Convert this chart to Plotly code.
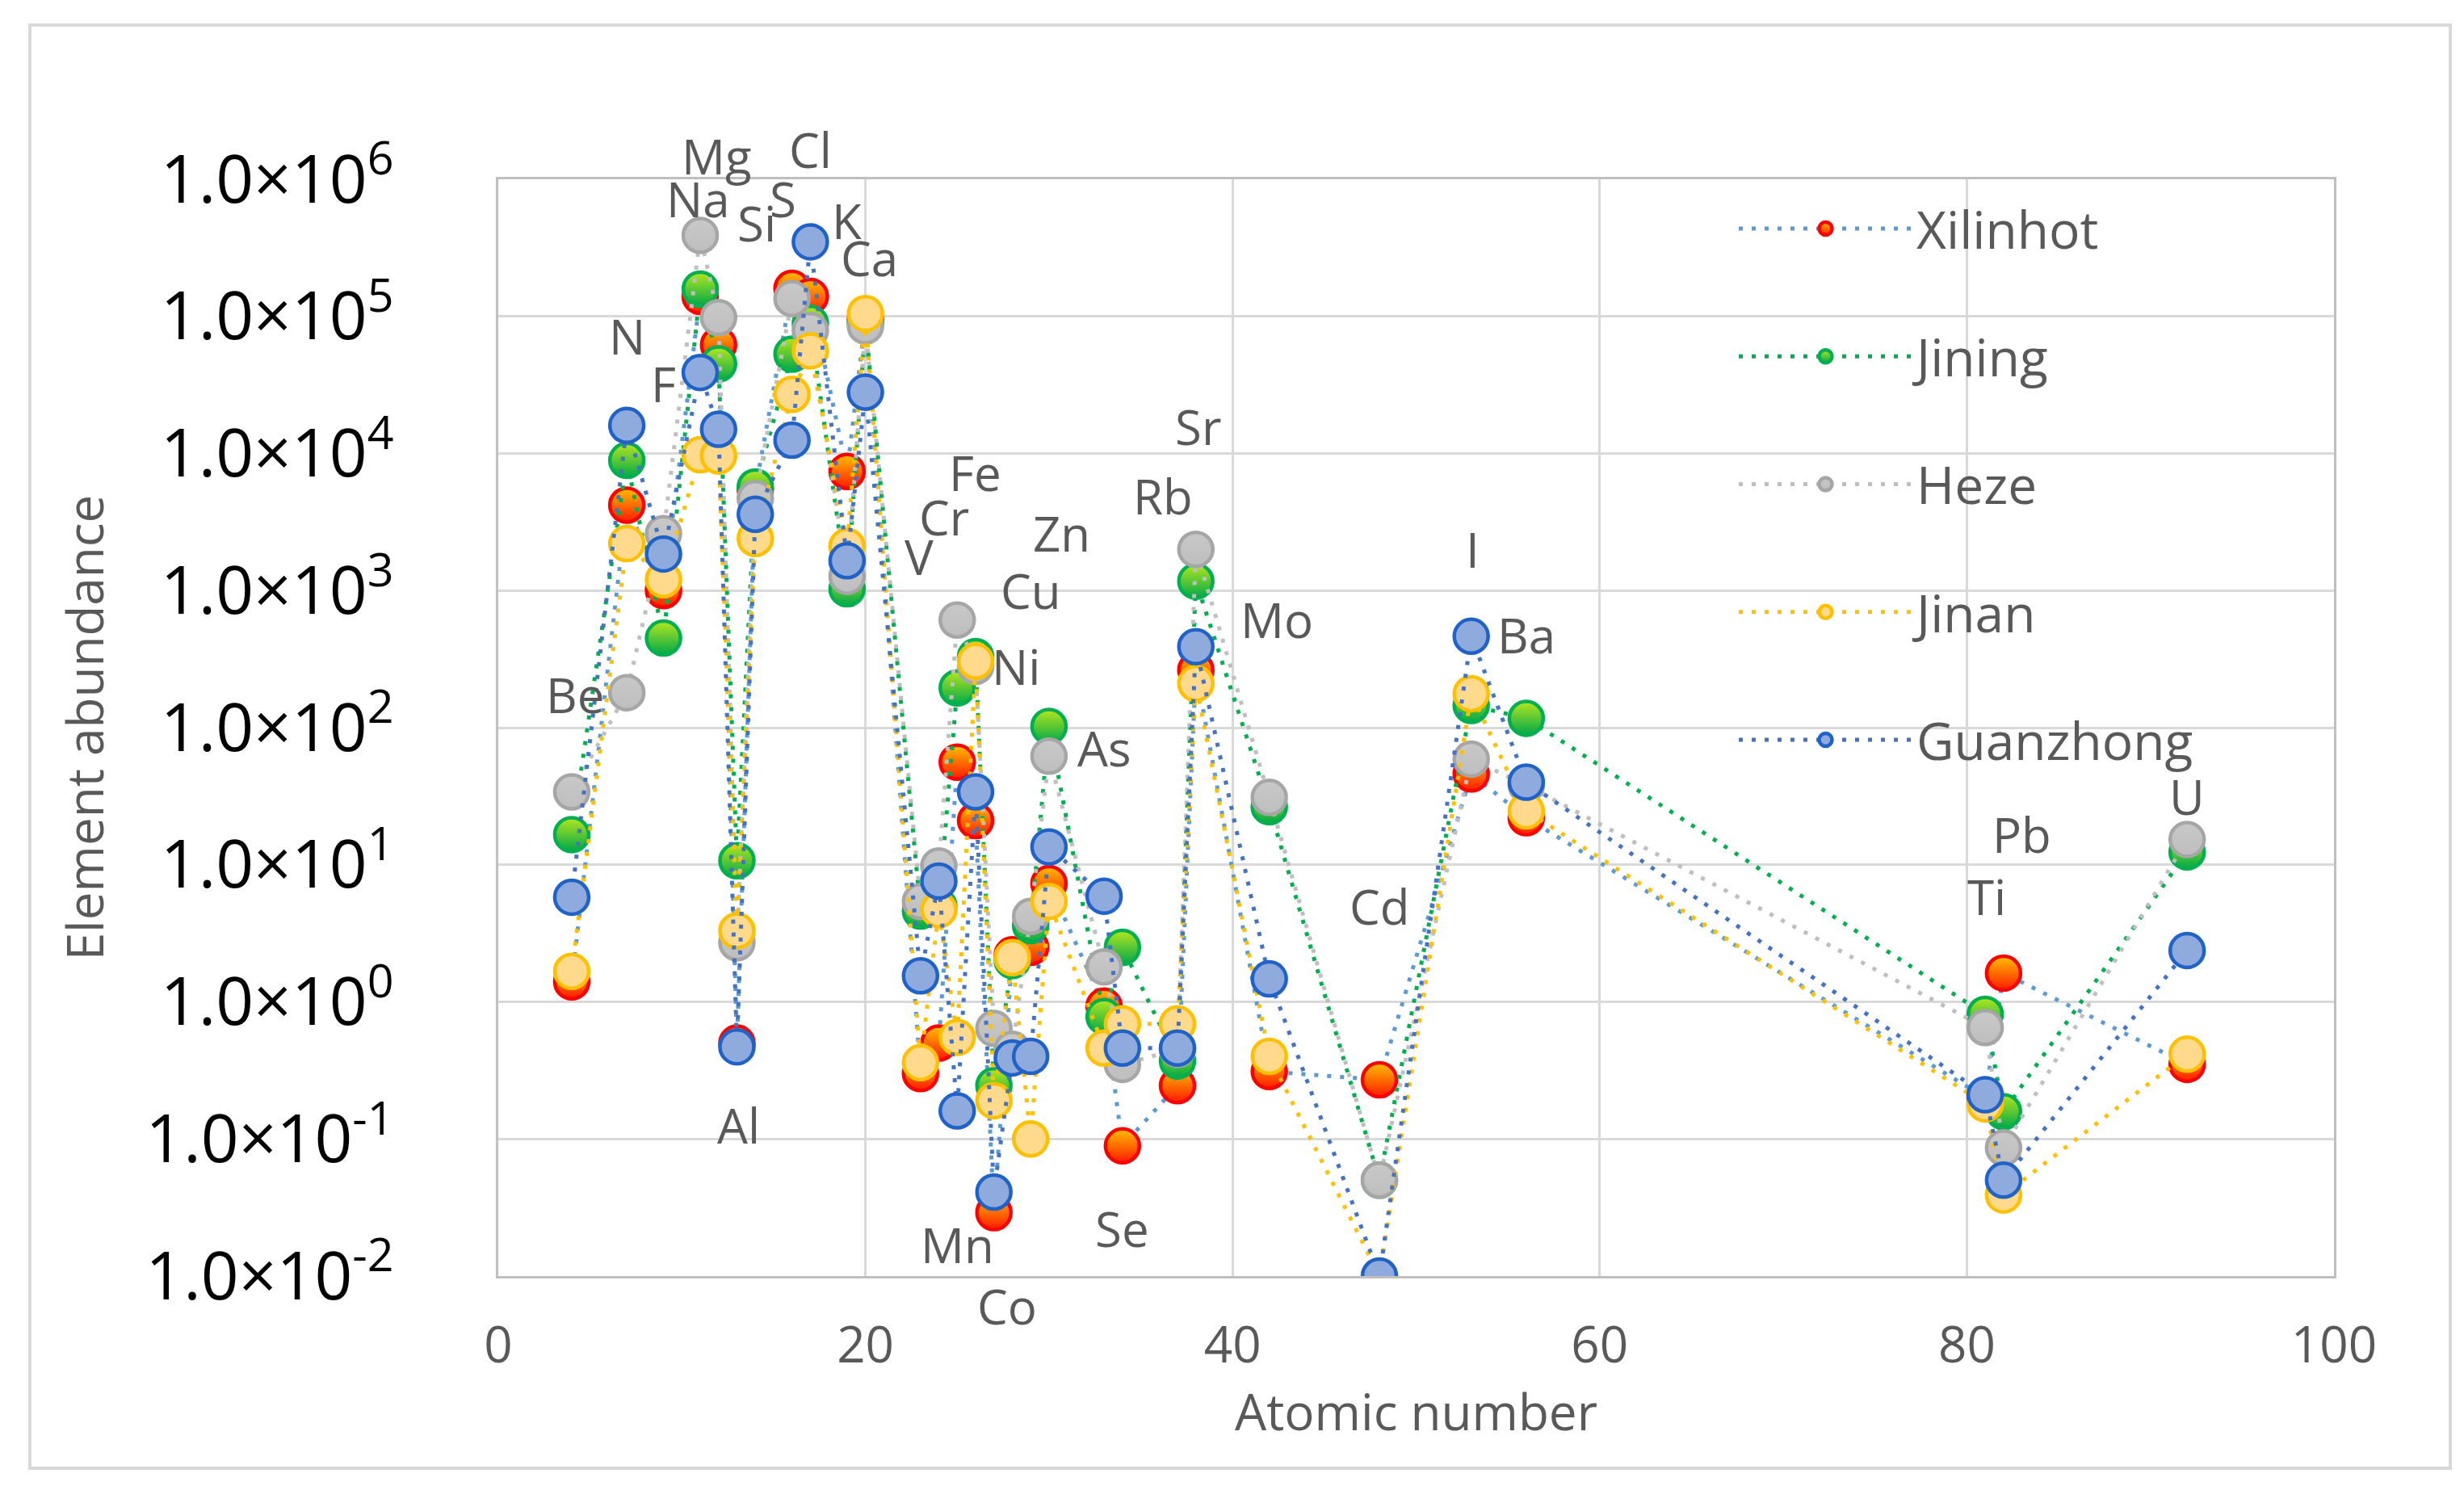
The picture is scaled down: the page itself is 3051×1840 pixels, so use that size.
import plotly.graph_objects as go

# -------------------------
# Données : abondance des éléments par site
# -------------------------
elements = ["Be", "N", "F", "Na", "Mg", "Al", "Si", "S", "Cl", "K", "Ca", "V", "Cr", "Mn", "Fe",
            "Co", "Ni", "Cu", "Zn", "As", "Se", "Rb", "Sr", "Mo", "Cd", "I", "Ba", "Ti", "Pb", "U"]
atomic_number = [4, 7, 9, 11, 12, 13, 14, 16, 17, 19, 20, 23, 24, 25, 26,
                 27, 28, 29, 30, 33, 34, 37, 38, 42, 48, 53, 56, 81, 82, 92]

xilinhot = [1.4, 4.2e3, 1.0e3, 1.4e5, 6.2e4, 0.5, 5.5e3, 1.6e5, 1.4e5, 7.4e3, 9.5e4, 0.30, 0.5, 56, 21,
            0.029, 2.2, 2.5, 7.3, 0.93, 0.089, 0.245, 263, 0.31, 0.27, 46, 22, 0.2, 1.62, 0.35]
jining = [16.6, 8.9e3, 450, 1.58e5, 4.5e4, 10.7, 5.7e3, 5.3e4, 8.9e4, 1.03e3, 9.0e4, 4.6, 5.0, 195, 330,
          0.245, 2.0, 3.6, 102, 0.78, 2.5, 0.37, 1.17e3, 26.5, 0.05, 145, 117, 0.81, 0.158, 12.4]
heze = [34, 180, 2.6e3, 3.9e5, 9.8e4, 2.7, 4.7e3, 1.35e5, 7.9e4, 1.27e3, 8.5e4, 5.4, 9.8, 610, 280,
        0.64, 0.45, 4.2, 62, 1.8, 0.35, 0.45, 2.0e3, 31, 0.05, 59, 38, 0.65, 0.086, 15.3]
jinan = [1.67, 2.2e3, 1.2e3, 9.8e3, 9.6e3, 3.3, 2.4e3, 2.7e4, 5.6e4, 2.1e3, 1.05e5, 0.36, 4.7, 0.55, 305,
         0.19, 2.1, 0.10, 5.4, 0.46, 0.69, 0.69, 210, 0.40, 0.01, 177, 24.7, 0.18, 0.039, 0.415]
guanzhong = [5.8, 1.6e4, 1.85e3, 3.9e4, 1.5e4, 0.47, 3.6e3, 1.25e4, 3.5e5, 1.65e3, 2.8e4, 1.55, 7.6, 0.16, 34,
             0.041, 0.39, 0.40, 13.5, 5.9, 0.46, 0.46, 390, 1.47, 0.01, 464, 40, 0.21, 0.05, 2.37]

y_exponents = [-2, -1, 0, 1, 2, 3, 4, 5, 6]
x_ticks = [0, 20, 40, 60, 80, 100]

# position des étiquettes (x, log10 y)
label_pos = {
    "Be": (4.2, 2.18), "N": (7.0, 4.80), "F": (9.0, 4.45), "Na": (10.9, 5.80), "Mg": (11.9, 6.11),
    "Al": (13.1, -0.96), "Si": (14.1, 5.62), "S": (15.5, 5.80), "Cl": (17.0, 6.16), "K": (19.0, 5.64),
    "Ca": (20.2, 5.37), "V": (22.9, 3.19), "Cr": (24.3, 3.48), "Mn": (25.0, -1.83), "Fe": (26.0, 3.80),
    "Co": (27.7, -2.28), "Ni": (28.2, 2.39), "Cu": (29.0, 2.94), "Zn": (30.7, 3.36), "As": (33.0, 1.79),
    "Se": (34.0, -1.71), "Rb": (36.2, 3.63), "Sr": (38.1, 4.14), "Mo": (42.4, 2.73), "Cd": (48.0, 0.64),
    "I": (53.1, 3.24), "Ba": (56.0, 2.62), "Ti": (81.1, 0.71), "Pb": (83.0, 1.16), "U": (92.0, 1.44),
}
LABEL_SHIFT = 0.06  # petite correction du centrage vertical du texte

# style des séries : (nom, valeurs, couleur ligne, remplissage, dégradé, contour)
series = [
    ("Xilinhot", xilinhot, "#5B9BD5", "#FFC000", "#FF1A00", "#FF0000"),
    ("Jining", jining, "#00B050", "#B5E61D", "#00A84A", "#00B050"),
    ("Heze", heze, "#BFBFBF", "#C8C8C8", "#BEBEBE", "#A6A6A6"),
    ("Jinan", jinan, "#FFC000", "#FFD98C", "#FFD98C", "#FFC000"),
    ("Guanzhong", guanzhong, "#4472C4", "#8FAADC", "#8FAADC", "#1F62C8"),
]

FONT = "Open Sans"
W, H = 3051, 1840
L, R, T, B = 609, 169, 214, 268
Y_MIN, Y_MAX = -2, 6

fig = go.Figure()
for i, (name, vals, lc, fill, grad, edge) in enumerate(series):
    fig.add_trace(go.Scatter(
        x=atomic_number, y=vals, name=name, mode="lines+markers",
        legendgroup=name,
        line=dict(color=lc, width=5, dash="5px,11px"),
        marker=dict(size=42, color=fill, symbol="circle",
                    gradient=dict(type="vertical", color=grad),
                    line=dict(color=edge, width=4.5)),
    ))

# étiquettes des éléments (yref paper pour pouvoir dépasser le haut de l'axe)
for el in elements:
    lx, ly = label_pos[el]
    fig.add_annotation(x=lx, xref="x", y=(ly + LABEL_SHIFT - Y_MIN) / (Y_MAX - Y_MIN), yref="paper",
                       xanchor="center", yanchor="middle",
                       text=el, showarrow=False,
                       font=dict(family=FONT, size=60, color="#595959"))

# cadre extérieur
pw, ph = W - L - R, H - T - B
fig.add_shape(type="rect", xref="paper", yref="paper",
              x0=(29 - L) / pw, x1=(3026 - L) / pw,
              y0=(H - B - 1810) / ph, y1=(H - B - 23) / ph,
              line=dict(color="#D9D9D9", width=4), layer="below")

fig.update_layout(
    width=W, height=H,
    margin=dict(l=L, r=R, t=T, b=B, autoexpand=False),
    paper_bgcolor="white", plot_bgcolor="white",
    font=dict(family=FONT, color="#595959"),
    showlegend=True,
    legend=dict(x=(2140 - L) / pw, y=(H - B - 227) / ph, xanchor="left", yanchor="top",
                font=dict(family=FONT, size=64, color="#595959"),
                itemwidth=215, tracegroupgap=72, bgcolor="rgba(0,0,0,0)"),
)
fig.update_xaxes(range=[0, 100], tickvals=x_ticks, ticktext=[str(v) for v in x_ticks],
                 showgrid=True, gridcolor="#D9D9D9", gridwidth=3,
                 showline=True, linecolor="#BFBFBF", linewidth=3, mirror=True,
                 zeroline=False, ticks="", ticklabelstandoff=30,
                 tickfont=dict(family=FONT, size=62, color="#595959"),
                 title=dict(text="Atomic number", font=dict(family=FONT, size=62, color="#595959"), standoff=20))
fig.update_yaxes(type="log", range=[Y_MIN, Y_MAX], tickvals=[10.0 ** e for e in y_exponents],
                 ticktext=[f"1.0×10<sup>{e}</sup>" for e in y_exponents],
                 showgrid=True, gridcolor="#D9D9D9", gridwidth=3,
                 showline=True, linecolor="#BFBFBF", linewidth=3, mirror=True,
                 zeroline=False, ticks="", ticklabelstandoff=110,
                 tickfont=dict(family=FONT, size=82, color="#000000"),
                 title=dict(text="Element abundance", font=dict(family=FONT, size=62, color="#595959"), standoff=32))

fig.write_html("out.html")
